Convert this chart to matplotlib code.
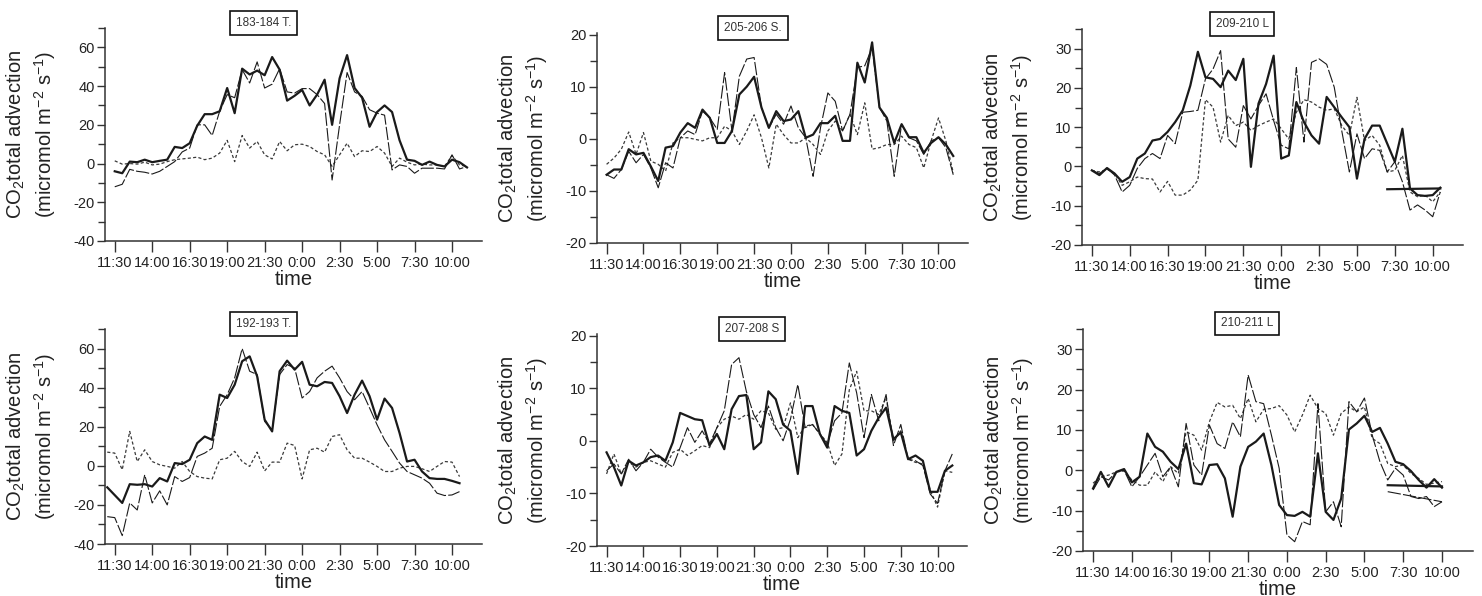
import numpy as np
import matplotlib
matplotlib.use("Agg")
import matplotlib.pyplot as plt
from matplotlib.ticker import MultipleLocator

plt.rcParams['font.family'] = ['Liberation Sans', 'DejaVu Sans']
plt.rcParams['mathtext.fontset'] = 'custom'
plt.rcParams['mathtext.rm'] = 'Liberation Sans'
plt.rcParams['axes.unicode_minus'] = False

# time axis: half-hour steps starting at 11:30
tick_pos = [0, 5, 10, 15, 20, 25, 30, 35, 40, 45]
tick_labels = ["11:30", "14:00", "16:30", "19:00", "21:30", "0:00", "2:30", "5:00", "7:30", "10:00"]

titles = ["183-184 T.", "205-206 S.", "209-210 L", "192-193 T.", "207-208 S", "210-211 L"]
starts = [0, 0, 0, -1, 0, 0]

# panel 1: 183-184 T.
p1_solid = [-4, -5, 1, 0.7, 2, 0.7, 1.4, 2, 8.6, 8, 10.5, 19.5, 25.5, 25.5, 27, 39, 26, 49, 46, 48,
            45.6, 55, 48.5, 32.5, 35, 38, 30, 35.6, 43.3, 20, 44, 56, 39, 34, 19, 26.6, 30, 26.6, 12, 2,
            1.4, -0.7, 1, -0.7, -1.5, 2, 0.7, -2]
p1_long = [-12, -10.7, -3, -4, -4.5, -5.4, -4, -1.5, 1, 6, 8, 20, 20, 14.5, 27, 35.6, 34, 48.5, 41.6, 52.5,
           39, 41, 49, 37, 36.4, 38.7, 38.7, 35.6, 31, -8.5, 20, 47, 37, 34.7, 27.8, 26, 25, -3.3, -0.7, -1.5,
           -5, -2.4, -2.4, -2.4, -2.8, 4.5, -2.8, -1.5]
p1_short = [1.4, -0.3, 0, -0.3, 0.7, -0.7, -0.3, 1, 2, 2.4, 2.8, 3.3, 2, 2.8, 5.4, 12, 1, 14.5, 8, 11.4,
            4.5, 2.4, 11.4, 6.6, 9.7, 10, 8.8, 6.2, 4.5, -1.5, 4.5, 10.5, 3.6, 6.6, 6.2, 8.8, 5.4, -1.5, 2.8, 0.7,
            -0.7, -0.3, -0.7, -0.7, -1.5, 4.1, -0.7, -1.5]

# panel 2: 205-206 S.
p2_solid = [-6.9, -5.9, -5.9, -2, -3, -2.7, -5.3, -8.1, -1.7, -1.4, 1.2, 3, 2.1, 5.6, 4, -0.8, -0.8, 1.5, 8.5, 10,
            11.9, 6, 2.1, 5.3, 3.4, 3.7, 5.3, 0.2, 0.8, 3, 3, 4.4, -0.4, -0.4, 14.6, 10.8, 18.5, 6, 4, -0.8,
            2.8, 0.3, 0.3, -2.7, -0.8, 0.3, -1.1, -3.3]
p2_long = [-6.9, -7.6, -5.9, -2.4, -4.6, -3, -5.6, -9.4, -4.6, -5.6, 0.2, 1.5, 0.8, 5.3, 4, 1.8, 12.7, 1.5, 12, 15.3,
           15.6, 6, 2.1, 4.7, 2.8, 6.3, 2.1, 0.2, -7.2, 2.1, 8.8, 7.2, 1.5, 4.7, 13.7, 14, 17.5, 6, 3.4, -7.2,
           2.8, 0.2, -0.4, -3, -0.4, 0.2, -1.7, -6.9]
p2_short = [-4.9, -3.7, -2, 1.3, -3, 1.2, -4.3, -4.9, -6.2, -0.8, 0.2, 0.2, -0.1, -0.4, 0.2, 0.2, 2.4, 1.5, -1.1, 1.5,
            4.6, 0.2, -5.6, 2.8, 0.8, -0.8, -0.8, 0.2, -1.1, -3, 1.5, 3.4, 1.5, 4.7, 0.8, 6.9, -2, -1.7, -1.1, -1.1,
            0.5, -1.1, -1.7, -5.6, -0.4, 4, -0.4, -6.5]

# panel 3: 209-210 L
p3_solid = [-1, -2.2, -0.4, -1.8, -3.9, -2.7, 2, 3.3, 6.6, 7, 8.8, 11.3, 14.3, 20.6, 29.2, 22.7, 22.3, 20.2, 24.4, 22,
            27.4, -0.1, 16, 21, 28.2, 2, 2.8, 16.4, 11.3, 7.9, 5.8, 17.7, 15.1, 12.5, 10, -3.1, 7, 10.4, 10.4, 5.8,
            1.2, 9.6, -5.6, -7.3, -7.5, -7.3, -5.4]
p3_long = [-1, -1.8, -0.5, -2.2, -6.5, -4.8, -0.5, 2, 3.3, 2, 7.9, 5.8, 13.8, 14, 14.3, 22.3, 24.8, 29.5, 7, 4.9,
           15.5, 12.1, 15.5, 18.5, 11.7, 5.4, 4.5, 25.2, 6.2, 26.5, 27.4, 26, 20.2, 9, -1.4, 8.3, 2, 4.5, 4.1, -1.4,
           1.2, -3.9, -11.1, -9.8, -11.1, -12.8, -6.5]
p3_short = [-1, -1.4, -0.7, -1.8, -4.8, -3.9, -2.7, -3.1, -3.2, -6.5, -3.8, -7.3, -7.3, -6, -3.5, 17, 15.1, 6.2, 13, 10.4,
            11.3, 9.2, 10.4, 11.3, 12.1, 9.6, 7, 13.8, 17, 16.4, 15.1, 14.3, 14.7, 10.4, 7.9, 17.6, 6.6, 7.9, 5.4, -1.4,
            -1, 2.8, -6.5, -7.7, -7.3, -9, -6.5]
p3_ret_x = [39, 46]
p3_ret_y = [-5.8, -5.6]

# panel 4: 192-193 T. (starts at 11:00)
p4_solid = [-11, -15, -19, -9.4, -9.7, -9.4, -10.6, -6.3, -8, 1.4, 0.9, 3.1, 11.6, 15, 13.3, 36.4, 34.7, 41.5, 53.5, 56,
            45.8, 23.6, 17.6, 48.4, 53.8, 49.2, 53.2, 41.5, 40.7, 42.9, 42.4, 35.6, 27, 36.4, 43.6, 35.6, 23.6, 34.4, 29.6, 16.8,
            2.2, 3.1, -2.9, -6.3, -6.7, -6.7, -7.7, -8.9]
p4_long = [-26, -26.5, -35.7, -19, -22.6, -4.6, -19, -12.8, -20, -5.5, -8, -6, 4.8, 6.5, 9, 30.4, 36.4, 45, 60, 48.4,
           46.7, 22.7, 18.5, 46.7, 51.8, 50, 34.7, 38, 45, 48.4, 51, 45, 38, 33.8, 38, 29.6, 21, 13.3, 7.4, 1.4,
           -2.9, -4.6, -6.3, -8.9, -14, -15.2, -14.9, -13.2]
p4_short = [7, 6.5, -2, 17.6, 2.2, 8.2, 2.2, 0.5, -0.3, -1.2, 2.2, -2.9, -5.5, -6.3, -6.7, 3.1, 3.9, 7.4, 2.2, -0.3,
            7, -2.6, 1.9, 1.9, 11.6, 10.4, -6.7, 8.2, 9, 7, 15, 15.9, 8.2, 3.9, 3.9, 1.9, -0.3, -2.9, -2.9, -1.2,
            -0.3, -0.3, -1.5, -2.9, -0.3, 2.2, 1.9, -5.5]

# panel 5: 207-208 S
p5_solid = [-2.2, -5, -8.5, -3.8, -4.7, -4.1, -3.1, -2.8, -3.8, -0.3, 5.3, 4.7, 4.1, 3.9, -0.9, 1.3, -1.6, 6, 8.5, 8.7,
            -1.6, -0.3, 9.4, 7.9, 3.1, 1.9, -6.3, 6.6, 6.6, 1.3, -1.3, 6.6, 5.7, 5.3, -2.8, -1.6, 1.9, 4.4, 6.3, 0.3,
            1.6, -3.5, -2.8, -3.8, -9.7, -9.7, -5.7, -4.7]
p5_long = [-5.7, -4.4, -6.3, -3.5, -5.7, -4.1, -1.6, -3.1, -4.1, -5, -1.3, 2.5, -0.3, 1.9, -0.6, 2.5, 5.7, 14.5, 15.8, 9.4,
           5, 2.5, 6.6, 2.5, 0, 4.1, 10.7, 2.5, 3.1, 1.3, -0.6, 3.8, 5.3, 14.8, 9.1, 0.6, 8.8, 3.8, 8.8, -0.9,
           3.1, -3.5, -3.8, -4.7, -10.1, -11.9, -5.7, -2.5]
p5_short = [-6.3, -2.5, -6.3, -4.1, -5, -4.1, -3.8, -4.4, -5, -2.2, -1.6, -2.8, -1.9, -0.9, -1.3, 2.5, 4.1, 4.7, 4.1, 5,
            4.1, 5.7, 5.3, 2.2, 2.5, 7.2, 0.6, 2.8, 3.1, 1.3, -0.3, -4.7, -2.5, 9.7, 13.2, 5.7, 5.7, 5, 8.2, 0,
            1.9, -3.5, -4.1, -4.4, -9.4, -12.6, -5.7, -6]

# panel 6: 210-211 L
p6_solid = [-4.5, -0.4, -4.1, -0.4, 0.3, -3, -1.6, 9.1, 5.8, 4.6, 2.1, 0.3, 6.6, -3.2, -3.5, 1.3, 1.5, -2, -11.5, 0.9,
            5.8, 7.1, 9.1, 1.3, -8.6, -11.1, -11.3, -10.3, -11.5, 4.2, -10.3, -12.3, -7, 10.1, 11.6, 13.5, 9.5, 10.5, 6.6, 2.1,
            1.5, -0.2, -2.4, -4.3, -2.2, -4.3]
p6_long = [-4.9, -1.6, -2.4, -0.4, 0, -4.1, -1.6, 1.3, 4.2, -1.6, 0.9, -4.1, 11.6, 1.3, -1.2, 11.2, 6.6, 5.4, 12, 8.3,
           23.6, 17, 16.5, 8.7, 0.5, -16, -17.7, -12.7, -13.5, 16.5, -10.3, -7.8, -14, 17, 14.5, 17.9, 8.7, 2.1, -2.4, 0.5,
           -1.2, -6.5, -7, -6.5, -9, -7.8]
p6_short = [-3.2, -1.6, -1.2, -0.4, -0.2, -2.4, -3.7, -3.7, -0.4, -2.8, 0.9, -0.8, 9.5, 8.7, 5, 12, 16.8, 15.7, 16.1, 12.8,
            17.8, 12, 15.1, 15.3, 16, 13.7, 9.5, 13.7, 18.6, 15.3, 14.1, 8.7, 14.1, 15.7, 14.5, 15.7, 7.9, 6.6, 1.7, 0.9,
            1.3, -0.8, -2, -3.5, -3.2, -2.8]
p6_ret_x = [38, 45]
p6_ret_solid = [-3.7, -4.0]
p6_ret_long = [-5.3, -7.8]

solids = [p1_solid, p2_solid, p3_solid, p4_solid, p5_solid, p6_solid]
longs = [p1_long, p2_long, p3_long, p4_long, p5_long, p6_long]
shorts = [p1_short, p2_short, p3_short, p4_short, p5_short, p6_short]

ylims = [(-40, 70), (-20, 20.3), (-20, 35), (-40, 70), (-20, 20.3), (-20, 35)]
ymajor = [20, 10, 10, 20, 10, 10]
yminor = [10, 5, 5, 10, 5, 5]

# axes boxes in pixels: left, right, top, bottom
W, H = 1482, 596
boxes = [(105, 482, 28, 241), (597, 968, 33, 243), (1082, 1463, 29, 245),
         (105, 482, 329, 544), (597, 967, 334, 546), (1083, 1473, 329, 551)]

fig = plt.figure(figsize=(W / 100, H / 100), dpi=100)
ink = '#1a1a1a'
axcol = '#333333'

for k in range(6):
    l, r, t, b = boxes[k]
    ax = fig.add_axes([l / W, 1 - b / H, (r - l) / W, (b - t) / H])
    s0 = starts[k]
    x = np.arange(s0, s0 + len(solids[k]))
    ax.plot(np.arange(s0, s0 + len(shorts[k])), shorts[k], color='#3a3a3a', lw=0.9, dashes=(2.5, 1.8))
    ax.plot(np.arange(s0, s0 + len(longs[k])), longs[k], color=ink, lw=0.8, dashes=(12, 2))
    ax.plot(x, solids[k], color=ink, lw=1.6)
    if k == 2:
        ax.plot(p3_ret_x, p3_ret_y, color=ink, lw=1.6)
    if k == 5:
        ax.plot(p6_ret_x, p6_ret_solid, color=ink, lw=1.6)
        ax.plot(p6_ret_x, p6_ret_long, color=ink, lw=0.8, dashes=(12, 2))

    ax.set_xlim(-1.3, 49)
    ax.set_ylim(*ylims[k])
    ax.set_xticks(tick_pos)
    ax.set_xticklabels(tick_labels)
    ax.yaxis.set_major_locator(MultipleLocator(ymajor[k]))
    ax.yaxis.set_minor_locator(MultipleLocator(yminor[k]))
    for side in ['top', 'right']:
        ax.spines[side].set_visible(False)
    for side in ['left', 'bottom']:
        ax.spines[side].set_color(axcol)
        ax.spines[side].set_linewidth(1.1)
    ax.tick_params(axis='x', which='major', length=8, width=1, color=axcol, pad=2.5,
                   labelsize=10.5, labelcolor='#222222')
    ax.tick_params(axis='y', which='major', length=6, width=1, color=axcol, pad=1.5,
                   labelsize=10.5, labelcolor='#222222')
    ax.tick_params(axis='y', which='minor', length=5, width=1, color=axcol)
    ax.set_xlabel('time', fontsize=14.5, color='#222222', labelpad=0)
    ax.text(-47 / (r - l), 0.5, 'CO$\\mathregular{_2}$total advection\n(micromol m$\\mathregular{^{-2}}$ s$\\mathregular{^{-1}}$)',
            transform=ax.transAxes, rotation=90, ha='right', va='center', ma='center',
            fontsize=14.5, color='#222222', linespacing=1.25)
    ax.text(0.42, 1.025, titles[k], transform=ax.transAxes, ha='center', va='center',
            fontsize=8.5, color='#333333',
            bbox=dict(boxstyle='square,pad=0.5', fc='white', ec='#111111', lw=1.2))

fig.savefig('out.png', dpi=100)
